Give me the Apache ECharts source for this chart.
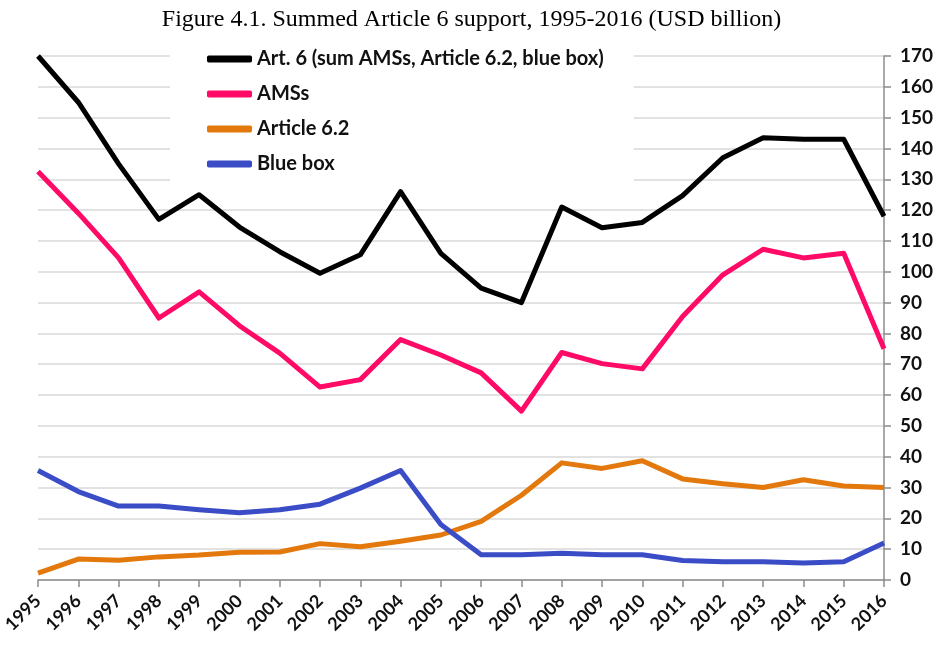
<!DOCTYPE html>
<html>
<head>
<meta charset="utf-8">
<script src="https://cdn.jsdelivr.net/npm/echarts@6/dist/echarts.min.js"></script>
<style>
  html, body { margin: 0; padding: 0; background: #fff; }
  #chart { width: 943px; height: 645px; }
</style>
</head>
<body>
<div id="chart"></div>
<script>
// years on the x axis
const years = ['1995', '1996', '1997', '1998', '1999', '2000', '2001', '2002', '2003', '2004', '2005',
  '2006', '2007', '2008', '2009', '2010', '2011', '2012', '2013', '2014', '2015', '2016']

// USD billion
const art6 = [170, 155, 135, 117, 125, 114.5, 106.5, 99.5, 105.5, 126, 106,
  94.7, 90, 121, 114.3, 116, 124.7, 137, 143.5, 143, 143, 118]
const amss = [132.5, 119, 104.5, 85, 93.5, 82.5, 73.6, 62.6, 65, 78, 73,
  67.2, 54.8, 73.8, 70.2, 68.5, 85.5, 99, 107.3, 104.5, 106, 75]
const art62 = [2.2, 6.8, 6.4, 7.5, 8.1, 9, 9.1, 11.8, 10.8, 12.6, 14.6,
  19, 27.5, 38, 36.2, 38.7, 32.8, 31.2, 30, 32.5, 30.5, 30]
const blueBox = [35.5, 28.7, 24, 24, 22.8, 21.8, 22.8, 24.6, 29.8, 35.5, 18,
  8.2, 8.2, 8.7, 8.2, 8.2, 6.3, 5.9, 5.9, 5.5, 5.9, 12]

const seriesNames = ['Art. 6 (sum AMSs, Article 6.2, blue box)', 'AMSs', 'Article 6.2', 'Blue box']
const seriesColors = ['#000000', '#ff0a66', '#e3780c', '#3a4cc6']

const labelFont = 'Lato, "Noto Sans", sans-serif'

const chart = echarts.init(document.getElementById('chart'))

const option = {
  animation: false,
  backgroundColor: '#fff',
  title: {
    text: 'Figure 4.1. Summed Article 6 support, 1995-2016 (USD billion)',
    left: 'center',
    top: 3,
    textStyle: {
      fontFamily: '"Liberation Serif", "Times New Roman", serif',
      fontWeight: 'normal',
      fontSize: 24,
      color: '#000'
    }
  },
  legend: {
    orient: 'vertical',
    left: 170,
    top: 43,
    padding: [6, 30, 12, 37],
    itemGap: 15,
    itemWidth: 45,
    itemHeight: 7,
    icon: 'roundRect',
    backgroundColor: '#fff',
    z: 10,
    selectedMode: false,
    textStyle: {
      fontFamily: labelFont,
      fontWeight: 'bold',
      fontSize: 20,
      color: '#111'
    },
    data: seriesNames
  },
  grid: {
    left: 37,
    right: 59,
    top: 56,
    bottom: 65
  },
  xAxis: {
    type: 'category',
    boundaryGap: false,
    data: years,
    axisLine: { lineStyle: { color: '#8c8c8c', width: 1.5 } },
    axisTick: { show: true, length: 7, interval: 0, lineStyle: { color: '#8c8c8c', width: 1.5 } },
    axisLabel: {
      interval: 0,
      rotate: 45,
      margin: 18,
      fontFamily: labelFont,
      fontWeight: 'bold',
      fontSize: 18,
      color: '#111'
    },
    splitLine: { show: false }
  },
  yAxis: {
    type: 'value',
    position: 'right',
    min: 0,
    max: 170,
    interval: 10,
    axisLine: { show: true, lineStyle: { color: '#8c8c8c', width: 1.5 } },
    axisTick: { show: true, length: 7, lineStyle: { color: '#8c8c8c', width: 1.5 } },
    axisLabel: {
      margin: 16,
      fontFamily: labelFont,
      fontWeight: 'bold',
      fontSize: 19,
      color: '#111'
    },
    splitLine: { lineStyle: { color: '#d9d9d9', width: 1.5 } }
  },
  series: [
    { name: seriesNames[0], data: art6 },
    { name: seriesNames[1], data: amss },
    { name: seriesNames[2], data: art62 },
    { name: seriesNames[3], data: blueBox }
  ].map((s, i) => ({
    ...s,
    type: 'line',
    symbol: 'none',
    color: seriesColors[i],
    lineStyle: { width: 5, color: seriesColors[i], join: 'round' }
  }))
}

chart.setOption(option)
</script>
</body>
</html>
